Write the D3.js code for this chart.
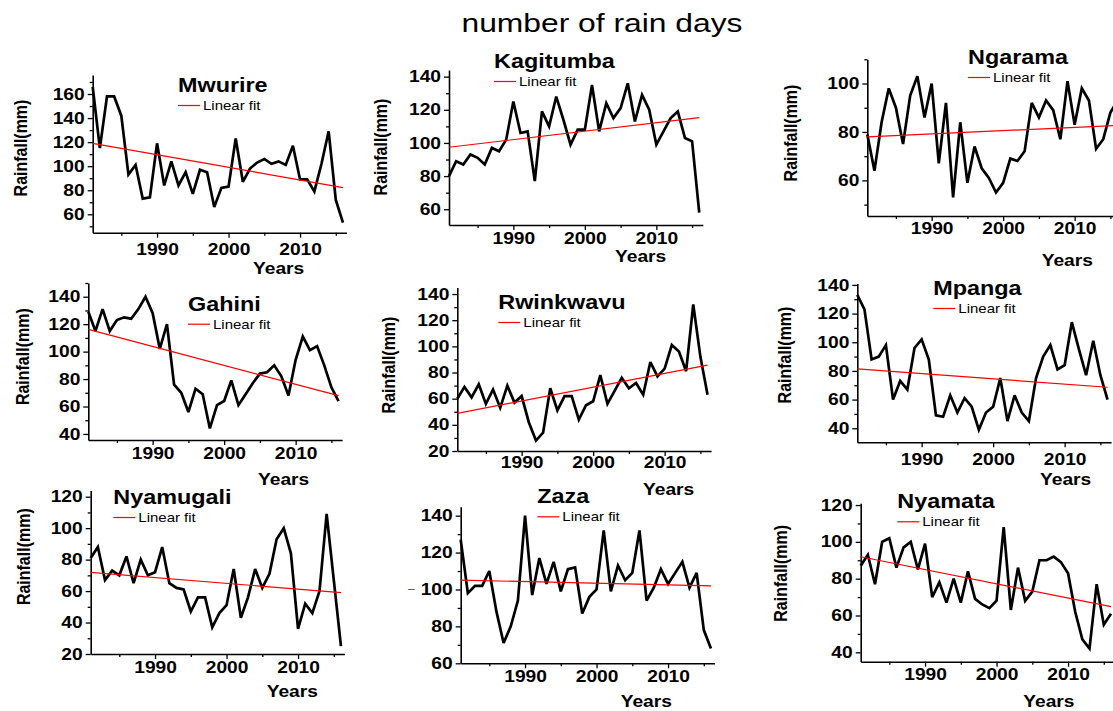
<!DOCTYPE html>
<html>
<head>
<meta charset="utf-8">
<script src="https://cdn.jsdelivr.net/npm/d3@7"></script>
<style>
body { margin: 0; background: #fff; }
svg { display: block; font-family: "Liberation Sans", Arial, sans-serif; }
</style>
</head>
<body>
<svg id="chart" width="1113" height="711"></svg>
<script>
// ---- data ----
var years = [1981, 1982, 1983, 1984, 1985, 1986, 1987, 1988, 1989, 1990, 1991, 1992,
             1993, 1994, 1995, 1996, 1997, 1998, 1999, 2000, 2001, 2002, 2003, 2004,
             2005, 2006, 2007, 2008, 2009, 2010, 2011, 2012, 2013, 2014, 2015, 2016];

var stations = ["Mwurire", "Kagitumba", "Ngarama", "Gahini", "Rwinkwavu", "Mpanga", "Nyamugali", "Zaza", "Nyamata"];

var mwurire   = [166, 115, 158, 158, 142, 93, 101, 73, 74, 119, 84, 104, 84, 95, 77, 97, 95, 66, 82, 83, 123, 87, 98, 103, 106, 102, 104, 101, 117, 89, 89, 79, 102, 129, 72, 53];
var kagitumba = [80, 89, 87, 93, 91, 87, 97, 95, 102, 125, 106, 107, 77, 119, 110, 128, 114, 99, 108, 108, 135, 107, 124, 115, 121, 136, 113, 129, 120, 99, 107, 115, 119, 103, 101, 58];
var ngarama   = [79, 64, 84, 98, 90, 75, 95, 103, 86, 100, 67, 92, 53, 84, 59, 74, 65, 61, 55, 59, 69, 68, 72, 92, 86, 93, 89, 77, 101, 83, 98, 93, 73, 77, 88, 93];
var gahini    = [129, 115, 131, 115, 123, 125, 124, 131, 140, 128, 102, 120, 76, 70, 56, 73, 69, 44, 61, 64, 79, 61, 69, 77, 84, 85, 90, 82, 68, 94, 111, 101, 104, 90, 74, 64];
var rwinkwavu = [60, 69, 61, 71, 56, 67, 53, 70, 57, 62, 42, 28, 34, 68, 51, 62, 62, 44, 55, 58, 78, 56, 66, 76, 68, 72, 63, 88, 77, 83, 101, 96, 81, 132, 92, 63];
var mpanga    = [133, 123, 88, 90, 98, 60, 73, 67, 96, 102, 88, 49, 48, 63, 51, 61, 55, 39, 51, 55, 75, 45, 63, 51, 45, 75, 90, 98, 81, 84, 114, 95, 77, 101, 77, 60];
var nyamugali = [81, 88, 67, 73, 70, 82, 65, 80, 70, 72, 88, 65, 62, 61, 47, 56, 56, 37, 46, 51, 74, 43, 56, 74, 62, 71, 93, 100, 84, 36, 52, 46, 60, 109, 67, 25];
var zaza      = [127, 98, 102, 102, 110, 88, 71, 80, 94, 140, 97, 117, 103, 115, 99, 111, 112, 87, 96, 100, 132, 99, 113, 105, 109, 132, 94, 101, 111, 103, 109, 115, 101, 109, 78, 68];
var nyamata   = [87, 93, 77, 100, 102, 86, 97, 100, 85, 99, 70, 78, 67, 80, 67, 84, 69, 66, 64, 68, 108, 63, 86, 68, 73, 90, 90, 92, 89, 83, 62, 47, 42, 77, 55, 61];

var series = [mwurire, kagitumba, ngarama, gahini, rwinkwavu, mpanga, nyamugali, zaza, nyamata];

// linear fit value at 1981 and at 2016, per station
var fitStart = [119, 97.4, 78, 116.2, 48.8, 81.4, 71.9, 105.1, 91.9];
var fitEnd   = [82.2, 115.3, 82.7, 67.9, 85.7, 68.6, 59, 101.9, 64.8];

var xTickLabels = [1990, 2000, 2010];
var xMinorTicks = [1985, 1995, 2005, 2015];
var yTickLabels = [
    [60, 80, 100, 120, 140, 160],
    [60, 80, 100, 120, 140],
    [60, 80, 100],
    [40, 60, 80, 100, 120, 140],
    [20, 40, 60, 80, 100, 120, 140],
    [40, 60, 80, 100, 120, 140],
    [20, 40, 60, 80, 100, 120],
    [60, 80, 100, 120, 140],
    [40, 60, 80, 100, 120]
];

// ---- layout (pixel positions of each panel) ----
var layout = [
    {left: 92.7,  bottom: 232.7, top: 75,    yDomain: [44.7, 175.8], xGap: 11,  title: [178, 92],      ylab: [20, 148],     yrs: [253, 274]},
    {left: 449,   bottom: 225,   top: 70,    yDomain: [50.5, 144],   xGap: 8,   title: [494, 68],      ylab: [380, 147],    yrs: [615, 262]},
    {left: 867.3, bottom: 216,   top: 59.3,  yDomain: [45.3, 110],   xGap: 7,   title: [968, 64],      ylab: [790, 133],    yrs: [1041.7, 266]},
    {left: 88.3,  bottom: 440,   top: 283,   yDomain: [35.6, 150],   xGap: 8,   title: [188, 310.7],   ylab: [21.7, 356.7], yrs: [258, 485]},
    {left: 457.3, bottom: 451,   top: 287.5, yDomain: [20, 145],     xGap: 6,   title: [498.3, 309],   ylab: [388.3, 365],  yrs: [643, 495]},
    {left: 857.3, bottom: 442.3, top: 283.5, yDomain: [30.2, 141],   xGap: 11,  title: [933.3, 295],   ylab: [784, 355],    yrs: [1040, 485]},
    {left: 90.7,  bottom: 654,   top: 490.4, yDomain: [20, 124],     xGap: 7.5, title: [113.3, 504],   ylab: [23.3, 556.7], yrs: [266.7, 696.7]},
    {left: 460.7, bottom: 663.3, top: 506.8, yDomain: [60, 144.8],   xGap: 7,   title: [537.3, 503.3], ylab: null,          yrs: [620.7, 707.3]},
    {left: 860.7, bottom: 661.7, top: 503.2, yDomain: [34.9, 121],   xGap: 7,   title: [897.3, 508.3], ylab: [780, 573.3],  yrs: [1023.3, 706.7]}
];

var pxPerYear = 7.15;
var SX = 1.2; // the reference text is stretched horizontally

var svg = d3.select("#chart");

// stretch a text horizontally around its own x
function stretch(sel) {
    sel.each(function() {
        var t = d3.select(this);
        var x = +t.attr("x") || 0;
        t.attr("transform", `translate(${x * (1 - SX)},0) scale(${SX},1)`);
    });
}

svg.append("text")
    .attr("x", 602).attr("y", 31.7)
    .attr("text-anchor", "middle")
    .attr("font-size", "26.5px")
    .attr("fill", "#000")
    .text("number of rain days")
    .call(stretch);

layout.forEach(function(p, i) {
    var x = d3.scaleLinear()
        .domain([1981, 2016.5])
        .range([p.left, p.left + 35.5 * pxPerYear]);
    var y = d3.scaleLinear()
        .domain(p.yDomain)
        .range([p.bottom, p.top]);

    var g = svg.append("g");

    var majors = yTickLabels[i];
    var minors = [];
    majors.forEach(function(v) {
        [v - 10, v + 10].forEach(function(m) {
            if (m >= p.yDomain[0] && m <= p.yDomain[1] && majors.indexOf(m) < 0 && minors.indexOf(m) < 0) minors.push(m);
        });
    });

    // minor ticks
    g.append("g")
        .attr("transform", `translate(0,${p.bottom})`)
        .call(d3.axisBottom(x).tickValues(xMinorTicks).tickSize(3).tickFormat(""))
        .call(a => a.select(".domain").remove());
    g.append("g")
        .attr("transform", `translate(${p.left},0)`)
        .call(d3.axisLeft(y).tickValues(minors).tickSize(3).tickFormat(""))
        .call(a => a.select(".domain").remove());

    // major ticks + labels
    var xAxis = g.append("g")
        .attr("transform", `translate(0,${p.bottom})`)
        .call(d3.axisBottom(x).tickValues(xTickLabels).tickSize(5).tickSizeOuter(0)
            .tickPadding(Math.max(0, p.xGap - 5)).tickFormat(d3.format("d")));
    var yAxis = g.append("g")
        .attr("transform", `translate(${p.left},0)`)
        .call(d3.axisLeft(y).tickValues(majors).tickSize(5).tickSizeOuter(0).tickPadding(3));

    [xAxis, yAxis].forEach(function(a) {
        a.select(".domain").attr("stroke-width", 1.6);
        a.selectAll(".tick text")
            .attr("font-size", "16px")
            .attr("font-weight", "bold")
            .attr("font-family", "Liberation Sans, Arial, sans-serif")
            .call(stretch);
    });
    g.selectAll(".tick line").attr("stroke-width", 1.3);

    // data line
    var line = d3.line()
        .x((d, j) => x(years[j]))
        .y(d => y(d));
    g.append("path")
        .datum(series[i])
        .attr("d", line)
        .attr("fill", "none")
        .attr("stroke", "#000")
        .attr("stroke-width", 2.7)
        .attr("stroke-linejoin", "miter")
        .attr("stroke-miterlimit", 3);

    // linear fit
    g.append("line")
        .attr("x1", x(years[0])).attr("y1", y(fitStart[i]))
        .attr("x2", x(years[years.length - 1])).attr("y2", y(fitEnd[i]))
        .attr("stroke", "#ff0000")
        .attr("stroke-width", 1.2);

    // station title
    g.append("text")
        .attr("x", p.title[0]).attr("y", p.title[1])
        .attr("font-size", "19.5px")
        .attr("font-weight", "bold")
        .text(stations[i])
        .call(stretch);

    // legend
    var ly = p.title[1] + 13.5;
    g.append("line")
        .attr("x1", p.title[0]).attr("x2", p.title[0] + 22)
        .attr("y1", ly).attr("y2", ly)
        .attr("stroke", "#ff0000")
        .attr("stroke-width", 1.2);
    g.append("text")
        .attr("x", p.title[0] + 25).attr("y", ly + 4.5)
        .attr("font-size", "12.5px")
        .text("Linear fit")
        .call(stretch);

    // axis titles
    if (p.ylab) {
        g.append("text")
            .attr("transform", `translate(${p.ylab[0] + 7},${p.ylab[1]}) rotate(-90) scale(1,${SX})`)
            .attr("text-anchor", "middle")
            .attr("font-size", "16px")
            .attr("font-weight", "bold")
            .text("Rainfall(mm)");
    }
    g.append("text")
        .attr("x", p.yrs[0]).attr("y", p.yrs[1])
        .attr("font-size", "16px")
        .attr("font-weight", "bold")
        .text("Years")
        .call(stretch);
});

// stray dash left of the Zaza axis
svg.append("text")
    .attr("x", 408).attr("y", 593)
    .attr("font-size", "12px")
    .attr("fill", "#555")
    .text("–");
</script>
</body>
</html>
